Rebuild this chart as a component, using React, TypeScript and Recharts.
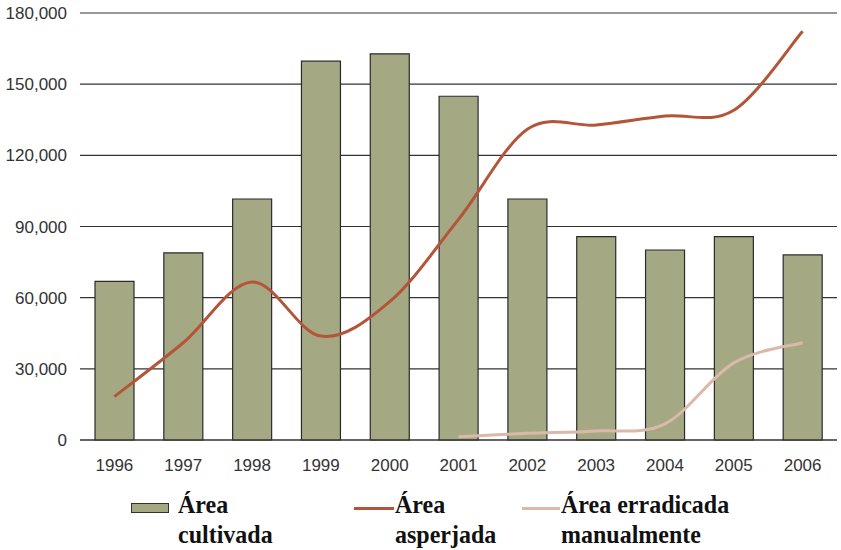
import { ComposedChart, Bar, Line, XAxis, YAxis, CartesianGrid } from 'recharts';

const years = ['1996', '1997', '1998', '1999', '2000', '2001', '2002', '2003', '2004', '2005', '2006'];
const cultivada = [66900, 78900, 101600, 159700, 162800, 144900, 101600, 85700, 80100, 85700, 78000];
const asperjada = [18300, 41000, 66600, 43800, 58300, 93000, 131000, 132800, 136600, 139000, 172300];
const erradicada = [null, null, null, null, null, 1400, 2800, 3800, 6800, 32500, 41000];
const yTicks = [0, 30000, 60000, 90000, 120000, 150000, 180000];

const data = years.map((year, i) => ({
  year,
  cultivada: cultivada[i],
  asperjada: asperjada[i],
  erradicada: erradicada[i],
}));

// Excel-style smoothed line (Catmull-Rom as bezier segments)
const smoothCurve = (context: any) => {
  let pts: number[][] = [];
  return {
    areaStart() {},
    areaEnd() {},
    lineStart() {
      pts = [];
    },
    point(x: number, y: number) {
      pts.push([+x, +y]);
    },
    lineEnd() {
      if (!pts.length) return;
      context.moveTo(pts[0][0], pts[0][1]);
      for (let i = 0; i < pts.length - 1; i++) {
        const p0 = pts[Math.max(i - 1, 0)];
        const p1 = pts[i];
        const p2 = pts[i + 1];
        const p3 = pts[Math.min(i + 2, pts.length - 1)];
        context.bezierCurveTo(
          p1[0] + (p2[0] - p0[0]) / 6,
          p1[1] + (p2[1] - p0[1]) / 6,
          p2[0] - (p3[0] - p1[0]) / 6,
          p2[1] - (p3[1] - p1[1]) / 6,
          p2[0],
          p2[1]
        );
      }
    },
  };
};

const legendFont = {
  position: 'absolute' as const,
  fontFamily: '"Liberation Serif", "Times New Roman", serif',
  fontWeight: 'bold' as const,
  fontSize: 24,
  lineHeight: '28px',
  color: '#111',
  whiteSpace: 'nowrap' as const,
  transform: 'scaleY(1.08)',
  transformOrigin: 'left top',
};

export default function App() {
  return (
    <div style={{ position: 'relative', width: 841, height: 550, background: '#fff' }}>
      <style>{'body{margin:0}'}</style>
      <ComposedChart
        width={841}
        height={550}
        data={data}
        margin={{ top: 13, right: 4, left: 0, bottom: 70 }}
      >
        <CartesianGrid vertical={false} stroke="#333" strokeWidth={1.2} />
        <XAxis
          dataKey="year"
          height={40}
          tickLine={false}
          axisLine={{ stroke: '#333', strokeWidth: 1.2 }}
          tickMargin={13}
          tick={{ fill: '#333', fontSize: 17, fontFamily: '"Liberation Sans", Arial, sans-serif' }}
        />
        <YAxis
          width={80}
          domain={[0, 180000]}
          ticks={yTicks}
          axisLine={false}
          tickLine={false}
          tickMargin={7}
          tickFormatter={(v: number) => v.toLocaleString('en-US')}
          tick={{ fill: '#333', fontSize: 17, fontFamily: '"Liberation Sans", Arial, sans-serif' }}
        />
        <Bar dataKey="cultivada" fill="#a4a984" stroke="#2b2b2b" strokeWidth={1.2} barSize={39} isAnimationActive={false} />
        <Line
          dataKey="asperjada"
          type={smoothCurve as any}
          stroke="#b4553a"
          strokeWidth={3}
          dot={false}
          activeDot={false}
          isAnimationActive={false}
        />
        <Line
          dataKey="erradicada"
          type={smoothCurve as any}
          stroke="#dbb9a9"
          strokeWidth={3}
          dot={false}
          activeDot={false}
          isAnimationActive={false}
        />
      </ComposedChart>

      <div style={{ position: 'absolute', left: 131, top: 503, width: 36, height: 8, background: '#a4a984', border: '1px solid #333' }} />
      <div style={{ ...legendFont, left: 178, top: 489 }}>
        Área<br />cultivada
      </div>
      <div style={{ position: 'absolute', left: 354, top: 507, width: 40, height: 3, background: '#b4553a' }} />
      <div style={{ ...legendFont, left: 395, top: 489 }}>
        Área<br />asperjada
      </div>
      <div style={{ position: 'absolute', left: 522, top: 507, width: 38, height: 3, background: '#dbb9a9' }} />
      <div style={{ ...legendFont, left: 561, top: 489 }}>
        Área erradicada<br />manualmente
      </div>
    </div>
  );
}
